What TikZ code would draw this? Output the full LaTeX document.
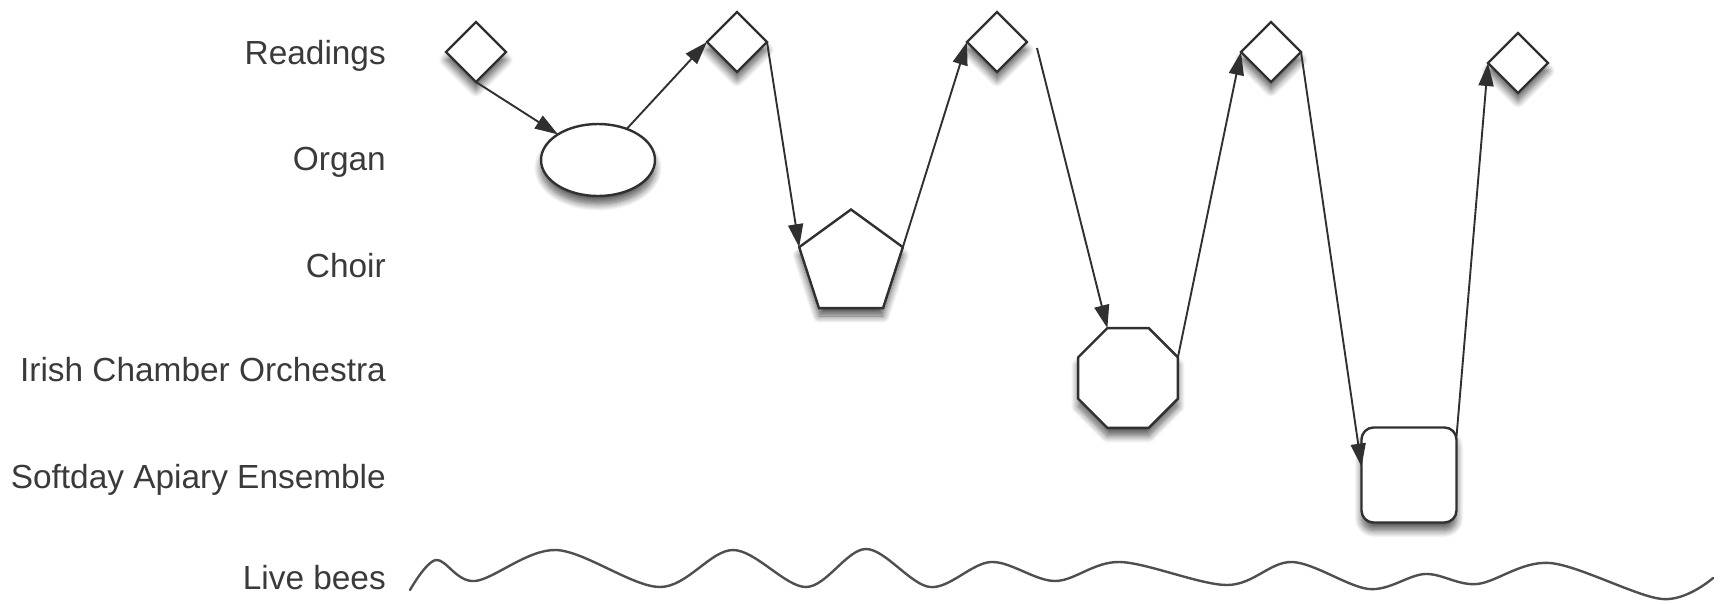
\documentclass[tikz,border=0pt]{standalone}
\usepackage{fontspec}
\setmainfont{Liberation Sans}
\usetikzlibrary{shapes.geometric,arrows.meta,shadows.blur}
\definecolor{ink}{HTML}{3A3A3A}
\definecolor{edge}{HTML}{303030}
\begin{document}
\begin{tikzpicture}[x=1pt,y=-1pt,
  lbl/.style={anchor=east,inner sep=0pt,text height=24pt,text depth=0pt,text=ink,
    font=\fontsize{33.4}{40}\selectfont},
  shp/.style={draw=edge,line width=2.4pt,fill=white,inner sep=0pt,outer sep=0pt,
    blur shadow={shadow xshift=0pt,shadow yshift=-8pt,shadow blur radius=7pt,shadow opacity=65,shadow blur steps=10}},
  dia/.style={shp,diamond,minimum width=60pt,minimum height=60pt},
  conn/.style={draw=edge,line width=1.9pt,-{Triangle[length=23pt,width=15pt]}}]
\useasboundingbox (0,0) rectangle (1729,603);
% labels
\node[lbl] (lr) at (386,52) {Readings};
\node[lbl] (lo) at (386,158) {Organ};
\node[lbl] (lc) at (386,265) {Choir};
\node[lbl] (li) at (386,369) {Irish Chamber Orchestra};
\node[lbl] (ls) at (386,476) {Softday Apiary Ensemble};
\node[lbl] (lb) at (386,577) {Live bees};
% shapes
\node[dia] (d1) at (476,52) {};
\node[shp,ellipse,minimum width=114pt,minimum height=72pt] (org) at (598,160) {};
\node[dia] (d2) at (737,42) {};
\node[shp,regular polygon,regular polygon sides=5,minimum size=109pt] (ch) at (851,264) {};
\node[dia] (d3) at (997,42) {};
\node[shp,regular polygon,regular polygon sides=8,minimum size=108pt] (oct) at (1128,378) {};
\node[dia] (d4) at (1271,52) {};
\node[shp,rectangle,rounded corners=12pt,minimum width=95pt,minimum height=95pt] (sq) at (1409,475) {};
\node[dia] (d5) at (1518,63) {};
% connectors
\draw[conn] (d1.south) -- (org);
\draw[conn] (org) -- (d2.west);
\draw[conn] (d2.east) -- (ch.corner 2);
\draw[conn] (ch.corner 5) -- (d3.west);
\draw[conn] ([xshift=10pt,yshift=-6pt]d3.east) -- (oct.corner 2);
\draw[conn] (oct.corner 8) -- (d4.west);
\draw[conn] (d4.east) -- (sq.170);
\draw[conn] (sq.39) -- (d5.west);
% live bees wave
\draw[draw=edge!85,line width=2.4pt,line join=round,line cap=round] plot[smooth,tension=0.55] coordinates {
 (410,590) (436,560) (475,581) (556,550) (660,587) (733,550) (806,587) (866,549)
 (930,587) (991,562) (1055,581) (1120,562) (1227,585) (1292,562) (1369,589)
 (1425,574) (1477,584) (1550,563) (1662,599) (1713,578)};
\end{tikzpicture}
\end{document}
